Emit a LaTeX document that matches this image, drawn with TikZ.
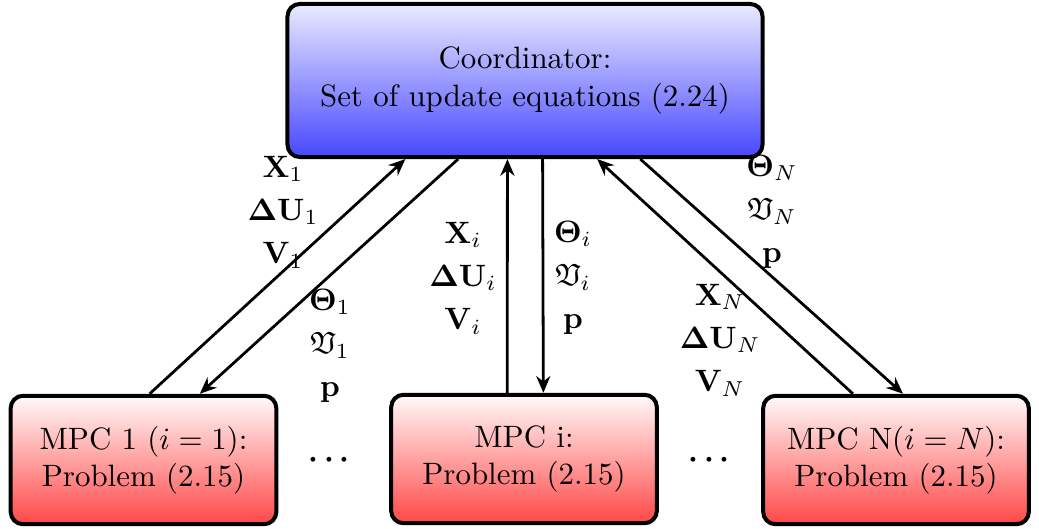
\documentclass[tikz,border=0pt]{standalone}
\usepackage{amsmath,amssymb,bm}
\usepackage{tikz}
\usetikzlibrary{arrows.meta,positioning,calc}
\tikzset{
  >={Stealth[length=1.9mm,width=1.6mm]},
  cbox/.style={draw=black,rounded corners=4pt,line width=1.3pt,align=center,top color=blue!8,bottom color=blue!72,minimum width=5.4cm,minimum height=1.74cm},
  mbox/.style={draw=black,rounded corners=4pt,line width=1.3pt,align=center,top color=red!2,bottom color=red!72,minimum width=3.02cm,minimum height=1.46cm},
  lab/.style={align=center,inner sep=0pt},
  arr/.style={->,line width=0.9pt},
}
\begin{document}
\begin{tikzpicture}[x=0.01137cm,y=-0.01137cm]
\useasboundingbox (0,0) rectangle (1039,529);
\node[cbox] (co) at (525,80.5) {Coordinator:\\Set of update equations (2.24)};
\node[mbox] (m1) at (143.5,460) {MPC 1 $(i=1)$:\\Problem (2.15)};
\node[mbox] (mi) at (524,459) {MPC i:\\Problem (2.15)};
\node[mbox] (mn) at (896,460) {MPC N$(i=N)$:\\Problem (2.15)};
\node (d1) at (332,460) {$\boldsymbol{\cdots}$};
\node (d2) at (712,460) {$\boldsymbol{\cdots}$};
% links to the coordinator
\draw[arr] ([xshift=0.07cm]m1.north) -- ([xshift=-1.36cm]co.south);
\draw[arr] ([xshift=-0.76cm]co.south) -- ([xshift=0.64cm]m1.north);
\draw[arr] ([xshift=-0.19cm]mi.north) -- ([xshift=-0.2cm]co.south);
\draw[arr] ([xshift=0.2cm]co.south) -- ([xshift=0.22cm]mi.north);
\draw[arr] ([xshift=-0.49cm]mn.north) -- ([xshift=0.82cm]co.south);
\draw[arr] ([xshift=1.31cm]co.south) -- ([xshift=0.08cm]mn.north);
% exchanged variables
\node[lab] (l1) at (283,212) {$\mathbf{X}_1$\\[2pt]$\boldsymbol{\Delta}\mathbf{U}_1$\\[2pt]$\mathbf{V}_1$};
\node[lab] (r1) at (330,346) {$\boldsymbol{\Theta}_1$\\[2pt]$\mathfrak{V}_1$\\[2pt]$\mathbf{p}$};
\node[lab] (li) at (463,278) {$\mathbf{X}_i$\\[2pt]$\boldsymbol{\Delta}\mathbf{U}_i$\\[2pt]$\mathbf{V}_i$};
\node[lab] (ri) at (573,278) {$\boldsymbol{\Theta}_i$\\[2pt]$\mathfrak{V}_i$\\[2pt]$\mathbf{p}$};
\node[lab] (rn) at (772,212) {$\boldsymbol{\Theta}_N$\\[2pt]$\mathfrak{V}_N$\\[2pt]$\mathbf{p}$};
\node[lab] (ln) at (720,340) {$\mathbf{X}_N$\\[2pt]$\boldsymbol{\Delta}\mathbf{U}_N$\\[2pt]$\mathbf{V}_N$};
\end{tikzpicture}
\end{document}
